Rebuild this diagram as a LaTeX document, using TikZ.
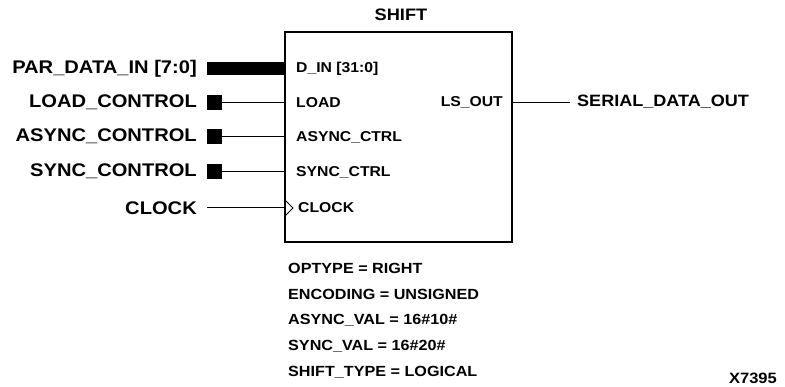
\documentclass[tikz,border=0pt]{standalone}
\usepackage{fontspec}
\setmainfont{Liberation Sans}[FakeStretch=1.1]
\begin{document}
\begin{tikzpicture}[x=1pt,y=-1pt,
  ext/.style={font=\fontsize{18.3}{21}\selectfont\bfseries, inner sep=0pt},
  pin/.style={font=\fontsize{14.3}{17}\selectfont\bfseries, inner sep=0pt, anchor=west},
  param/.style={font=\fontsize{14.7}{17}\selectfont\bfseries, inner sep=0pt, anchor=west},
  blk/.style={draw, line width=2pt, minimum width=227pt, minimum height=210pt, inner sep=0pt},
  sq/.style={fill=black, minimum width=15pt, minimum height=15pt, inner sep=0pt},
  wire/.style={line width=1pt}]
\useasboundingbox (0,0) rectangle (785,387);
% block
\node[blk] (shift) at (398.5,137) {};
\node[ext, font=\fontsize{16.6}{20}\selectfont\bfseries, anchor=center] (title) at (401,15) {SHIFT};
% pin coordinates on block edge
\coordinate (pD) at (285,68.5);
\coordinate (pL) at (285,102.5);
\coordinate (pA) at (285,136.5);
\coordinate (pS) at (285,171.5);
\coordinate (pC) at (285,208);
\coordinate (pO) at (512,102.5);
% internal pin labels
\node[pin] (lD) at (296,69) {D\_IN [31:0]};
\node[pin] (lL) at (296,103) {LOAD};
\node[pin] (lA) at (296,137) {ASYNC\_CTRL};
\node[pin] (lS) at (296,172) {SYNC\_CTRL};
\node[pin] (lC) at (298,208) {CLOCK};
\node[pin, anchor=east] (lO) at (503,102) {LS\_OUT};
% external labels
\node[ext, anchor=east] (eD) at (197,68.5) {PAR\_DATA\_IN [7:0]};
\node[ext, anchor=east] (eL) at (197,102.5) {LOAD\_CONTROL};
\node[ext, anchor=east] (eA) at (197,136.5) {ASYNC\_CONTROL};
\node[ext, anchor=east] (eS) at (197,171.5) {SYNC\_CONTROL};
\node[ext, anchor=east] (eC) at (197,208) {CLOCK};
\node[ext, font=\fontsize{16.4}{20}\selectfont\bfseries, anchor=west] (eO) at (577,102) {SERIAL\_DATA\_OUT};
% bus
\coordinate (bD) at (207,68.5);
\draw[line width=13pt] (bD) -- (pD);
% control squares
\node[sq] (sL) at (214.5,102.5) {};
\node[sq] (sA) at (214.5,136.5) {};
\node[sq] (sS) at (214.5,171.5) {};
\draw[wire] (sL.east) -- (pL);
\draw[wire] (sA.east) -- (pA);
\draw[wire] (sS.east) -- (pS);
% clock
\coordinate (cC) at (207,208);
\draw[wire] (cC) -- (pC);
\draw[wire, line join=miter] (285,200) -- (293,208) -- (285,216);
% output
\coordinate (oE) at (570,102.5);
\draw[wire] (pO) -- (oE);
% parameters
\node[param] (p1) at (288,268) {OPTYPE = RIGHT};
\node[param] (p2) at (288,294) {ENCODING = UNSIGNED};
\node[param] (p3) at (288,320) {ASYNC\_VAL = 16\#10\#};
\node[param] (p4) at (288,346) {SYNC\_VAL = 16\#20\#};
\node[param] (p5) at (288,372) {SHIFT\_TYPE = LOGICAL};
\node[ext, font=\fontsize{15}{18}\selectfont\bfseries, anchor=east] (x) at (777,378) {X7395};
\end{tikzpicture}
\end{document}
